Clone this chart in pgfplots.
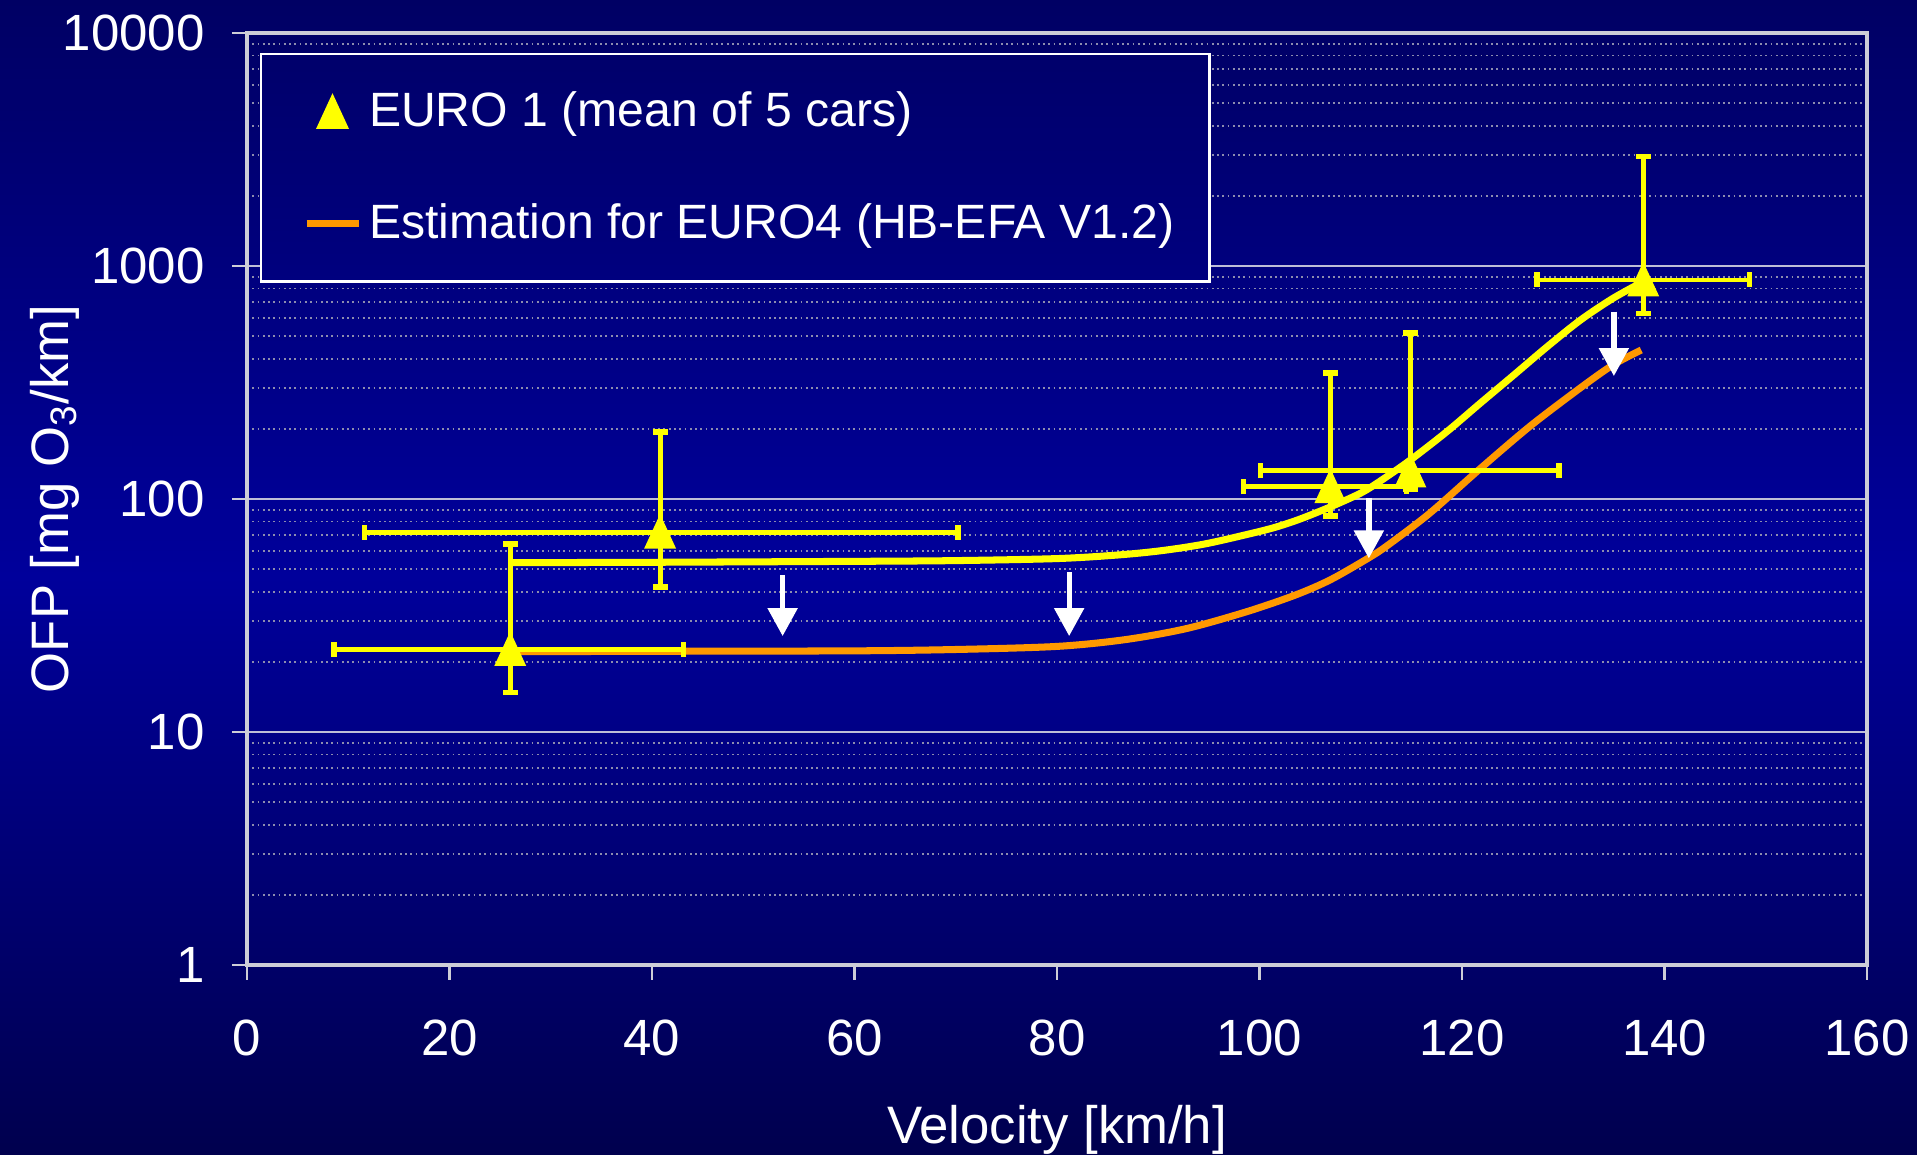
\documentclass[border=0pt]{standalone}
\usepackage{fontspec}
\setmainfont{Liberation Sans}
\usepackage{pgfplots}
\pgfplotsset{compat=1.18}
\usetikzlibrary{arrows.meta}
\definecolor{bgtop}{RGB}{0,0,100}
\definecolor{bgmid}{RGB}{0,0,155}
\definecolor{bgbot}{RGB}{0,0,78}
\definecolor{legtop}{RGB}{0,0,107}
\definecolor{legbot}{RGB}{0,0,127}
\definecolor{ylw}{RGB}{255,255,0}
\definecolor{org}{RGB}{255,153,0}
\definecolor{axgray}{RGB}{205,205,215}
\definecolor{gridmaj}{RGB}{190,190,215}
\definecolor{gridmin}{RGB}{140,140,175}

\pgfplotstableread{
x y exm exp eym eyp
26 22.6 17.4 17.1 7.8 41.4
40.8 72.1 29.2 29.4 30.2 121.9
107 113 8.6 7.5 28.5 234
114.9 132 14.8 14.7 22 385
137.9 871 10.5 10.5 245 2079
}\euroone

\begin{document}
\begin{tikzpicture}
\path[use as bounding box] (0,0) rectangle (19.17cm,11.54cm);
\shade[top color=bgtop, bottom color=bgbot, middle color=bgmid] (0,0) rectangle (19.17cm,11.54cm);
\begin{axis}[
  at={(2.47cm,1.89cm)}, anchor=south west,
  scale only axis, width=16.2cm, height=9.32cm,
  xmin=0, xmax=160, ymin=1, ymax=10000, ymode=log,
  xtick={0,20,40,60,80,100,120,140,160},
  xticklabels={0,20,40,60,80,100,120,140,160},
  ytick={1,10,100,1000,10000},
  yticklabels={1,10,100,1000,10000},
  minor ytick={2,3,4,5,6,7,8,9,20,30,40,50,60,70,80,90,200,300,400,500,600,700,800,900,2000,3000,4000,5000,6000,7000,8000,9000},
  tick align=outside, tick pos=left,
  major tick length=0.15cm, minor tick length=0pt,
  axis line style={draw=axgray, line width=0.9pt},
  every tick/.style={draw=axgray, line width=0.6pt},
  ymajorgrids, yminorgrids,
  major grid style={draw=gridmaj, line width=0.6pt},
  minor grid style={draw=gridmin, line width=0.5pt, densely dotted},
  ticklabel style={font=\fontsize{14.5}{17}\selectfont, text=white},
  xticklabel style={yshift=-0.28cm},
  yticklabel style={xshift=-0.15cm},
  xlabel={Velocity [km/h]},
  ylabel={OFP [mg O\textsubscript{3}/km]},
  label style={font=\fontsize{15}{18}\selectfont, text=white},
  xlabel style={at={(axis description cs:0.5,-0.191)}, anchor=base},
  ylabel style={at={(axis description cs:-0.1185,0.5)}, anchor=center},
  legend style={at={(axis description cs:0.008,0.9785)}, anchor=north west,
    draw=white, line width=0.6pt, top color=legtop, bottom color=legbot,
    text=white, font=\fontsize{13.7}{16}\selectfont,
    inner xsep=0.28cm, inner ysep=0.31cm, row sep=0.57cm},
  legend cell align=left,
  reverse legend,
  legend image code/.code={\path (0cm,0cm); \draw[mark repeat=2,mark phase=2,#1] plot coordinates {(0.14cm,0cm) (0.40cm,0cm) (0.66cm,0cm)};},
]
% EURO1 fit curve (no legend)
\addplot[ylw, line width=2pt, smooth, forget plot] coordinates {
(26,53.3) (40,53.5) (60,54) (70,54.4) (80,55.5) (86,57.5) (90.3,60) (94.5,64)
(98.8,70.5) (101.5,75.5) (104,82) (107,92.5) (110,106) (112,120) (114.9,147)
(118.5,194.5) (121.8,257.6) (125.1,340) (128.4,450) (131.7,586) (134.9,726) (137.9,857)};
% EURO4 estimation
\addplot[org, line width=2pt, smooth] coordinates {
(26,22.1) (40,22.2) (60,22.3) (70,22.6) (80,23.3) (86.7,24.9) (92.8,27.8) (98.8,32.9)
(103.6,38.8) (107,45) (110.7,55.6) (112.6,63) (116.8,86.8) (121.8,135) (126.7,205)
(131.7,300) (134.9,376) (137.7,436)};
\addlegendentry{Estimation for EURO4 (HB-EFA V1.2)}
% EURO1 measurements
\addplot[ylw, only marks, mark=triangle*, mark size=6.1pt,
  mark options={xscale=0.8, yshift=-0.05cm},
  error bars/.cd, x dir=both, x explicit, y dir=both, y explicit,
  error mark=|,
  error bar style={line width=1.4pt},
  error mark options={line width=1.6pt, mark size=0.075cm}]
  table[x=x, y=y, x error plus=exp, x error minus=exm, y error plus=eyp, y error minus=eym] {\euroone};
\addlegendentry{EURO 1 (mean of 5 cars)}
% reduction arrows
\draw[white, line width=1.5pt, -{Triangle[width=0.29cm,length=0.28cm]}] (axis cs:52.9,47.3) -- (axis cs:52.9,25.8);
\draw[white, line width=1.5pt, -{Triangle[width=0.29cm,length=0.28cm]}] (axis cs:81.2,48.4) -- (axis cs:81.2,25.8);
\draw[white, line width=1.5pt, -{Triangle[width=0.29cm,length=0.28cm]}] (axis cs:110.8,101) -- (axis cs:110.8,55.6);
\draw[white, line width=1.5pt, -{Triangle[width=0.29cm,length=0.28cm]}] (axis cs:135,637) -- (axis cs:135,337);
\end{axis}
\end{tikzpicture}
\end{document}
